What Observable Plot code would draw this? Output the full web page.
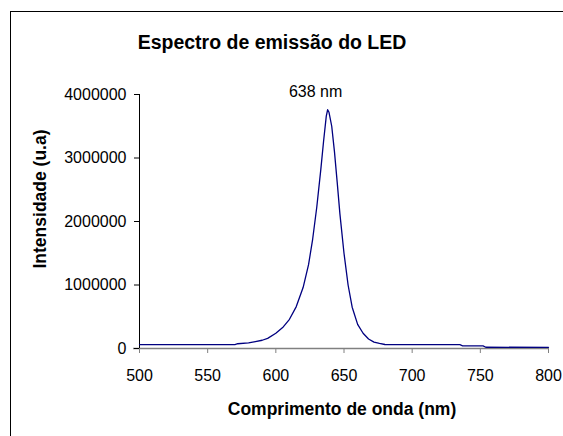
<!DOCTYPE html>
<html>
<head>
<meta charset="utf-8">
<script src="https://cdn.jsdelivr.net/npm/d3@7"></script>
<script src="https://cdn.jsdelivr.net/npm/@observablehq/plot@0.6"></script>
<style>
  html, body { margin: 0; padding: 0; background: #fff; }
  #wrap { position: relative; width: 563px; height: 436px; overflow: hidden; font-family: "Liberation Sans", Arial, sans-serif; }
  #border { position: absolute; left: 10px; top: 11px; width: 700px; height: 600px; border: 1px solid #000; box-sizing: border-box; }
  #chart { position: absolute; left: 0; top: 0; }
  #labels { position: absolute; left: 0; top: 0; pointer-events: none; }
</style>
</head>
<body>
<div id="wrap">
  <div id="border"></div>
  <div id="chart"></div>
  <svg id="labels" width="563" height="436" font-family="Liberation Sans, Arial, sans-serif" font-weight="bold" fill="#000">
    <text x="272" y="49" text-anchor="middle" font-size="19.5">Espectro de emissão do LED</text>
    <text x="342" y="414.5" text-anchor="middle" font-size="17.5">Comprimento de onda (nm)</text>
    <text transform="translate(45.5,199) rotate(-90)" text-anchor="middle" font-size="17.5">Intensidade (u.a)</text>
  </svg>
</div>
<script>
// Data
const wavelength = [500, 570, 572, 580, 585, 590, 594, 600, 605, 610, 615, 620, 624, 627, 630, 633, 635, 637, 638, 639, 641, 643, 645, 647, 650, 653, 656, 660, 664, 668, 672, 676, 680, 700, 735, 737, 752, 754, 800];
const intensity  = [62000, 62000, 75000, 90000, 110000, 130000, 160000, 240000, 330000, 460000, 660000, 960000, 1320000, 1720000, 2220000, 2820000, 3260000, 3660000, 3760000, 3720000, 3500000, 3100000, 2620000, 2120000, 1500000, 1000000, 650000, 380000, 240000, 150000, 100000, 80000, 63000, 62000, 60000, 42000, 40000, 20000, 18000];
const xTicks = [500, 550, 600, 650, 700, 750, 800];
const yTicks = [0, 1000000, 2000000, 3000000, 4000000];
const peakLabel = "638 nm";
const peakWavelength = 638;

const data = wavelength.map((w, i) => ({ w, v: intensity[i] }));
const peak = data.find(d => d.w === peakWavelength);

const chart = Plot.plot({
  width: 563,
  height: 436,
  marginLeft: 139,
  marginRight: 15,
  marginTop: 94,
  marginBottom: 88,
  style: { fontFamily: "Liberation Sans, Arial, sans-serif", fontSize: "16px", background: "transparent", color: "#000" },
  x: { domain: [500, 800], ticks: xTicks },
  y: { domain: [0, 4000000], ticks: yTicks },
  marks: [
    Plot.ruleY([0], { stroke: "#808080", strokeWidth: 1.5, insetLeft: -6 }),
    Plot.axisX({ ticks: xTicks, tickSize: 5, tickPadding: 16, stroke: "#808080", fill: "#000", fontSize: 16, label: null }),
    Plot.ruleX([500], { stroke: "#000" }),
    Plot.axisY({ ticks: yTicks, tickSize: 5, tickPadding: 8, tickFormat: d3.format("d"), stroke: "#000", fill: "#000", fontSize: 16, label: null }),
    Plot.line(data, { x: "w", y: "v", stroke: "#000080", strokeWidth: 1.3 }),
    Plot.text([peak], { x: "w", y: "v", text: () => peakLabel, dy: -18, dx: -12, fontSize: 16, fill: "#000" })
  ]
});
document.getElementById("chart").appendChild(chart);
</script>
</body>
</html>
